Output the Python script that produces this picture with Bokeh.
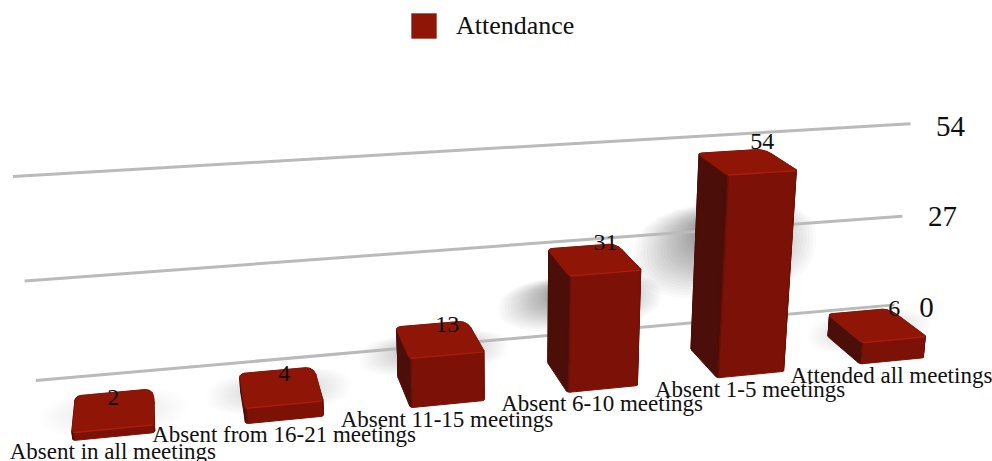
import numpy as np
from bokeh.plotting import figure
from bokeh.models import Range1d, Legend, LegendItem
from bokeh.core.properties import value
from bokeh.embed import file_html
from bokeh.resources import INLINE

# ---- data ----
categories = ["Absent in all meetings", "Absent from 16-21 meetings", "Absent 11-15 meetings",
              "Absent 6-10 meetings", "Absent 1-5 meetings", "Attended all meetings"]
attendance = [2, 4, 13, 31, 54, 6]
tick_values = [0, 27, 54]
series_name = "Attendance"

# ---- 3D camera of the chart: (category, value, depth) -> page ----
CAM = np.array([[179.4450745, -0.4751695, 7.859113, 71.984791],
                [-6.0275634, -4.2991639, -14.3405113, 440.0879406],
                [0.0255717, -0.0009273, 0.0567159, 1.0]])
BAR_W, WALL_D, WALL_L, WALL_R = 0.4690721, 1.7864386, -0.2638918, 5.7390848
FONT = value("Liberation Serif")
INK = "#101010"


def proj(c, v, d):
    h = CAM @ np.array([c, v, d, 1.0])
    return float(h[0] / h[2]), float(h[1] / h[2])


def section(c0, c1, d0, d1, n=4):
    """Bar cross-section in the (category, depth) plane: tight front corners, wide back corners."""
    pts = []
    corners = [(c0 + 0.018, d0 + 0.05, 0.018, 0.05, 180, 270), (c1 - 0.018, d0 + 0.05, 0.018, 0.05, 270, 360),
               (c1 - 0.05, d1 - 0.22, 0.05, 0.22, 0, 90), (c0 + 0.035, d1 - 0.12, 0.035, 0.12, 90, 180)]
    for cx, cy, rc, rd, a0, a1 in corners:
        for a in np.radians(np.linspace(a0, a1, n)):
            pts.append((cx + rc * np.cos(a), cy + rd * np.sin(a), a))
    return pts


def shade(a):
    """Face colour from its outward direction: dark to the left, mid at the front."""
    front, left, right = np.array([125, 18, 7]), np.array([76, 14, 8]), np.array([108, 17, 8])
    ca = np.cos(a)
    t = min(max(-ca, 0.0) * 1.6, 1.0)
    col = front * (1 - t) + left * t if ca < 0 else front * (1 - ca) + right * ca
    return "#%02x%02x%02x" % tuple(int(x) for x in col)


p = figure(width=992, height=461, output_backend="svg", toolbar_location=None,
           x_range=Range1d(0, 992), y_range=Range1d(461, 0), min_border=0,
           outline_line_color=None,
           background_fill_color="white", border_fill_color="white")
p.axis.visible = False
p.grid.visible = False

# soft shadows: nested blobs behind each bar, denser towards the middle
sx, sy, sa = [], [], []
LAYERS = 40
for i, v in enumerate(attendance):
    alpha = 0.004 + 0.017 * min(v / 30, 1)
    d = 0.5 + 0.5 * min(v / 20, 1)
    hc = BAR_W / 2 + 0.2 + 0.004 * v
    hv = max(0.25 * v, 6)
    for k in range(LAYERS):
        u = (1 - k / LAYERS) ** 1.5
        vc = v * (0.64 - 0.14 * u) if v > 10 else v * 0.5
        xy = []
        for a in np.radians(np.arange(0, 360, 15)):
            ca, sn = np.cos(a), np.sin(a)
            # superellipse outline
            xy.append(proj(i + BAR_W / 2 + hc * u * np.sign(ca) * abs(ca) ** 0.8,
                           vc + hv * u * np.sign(sn) * abs(sn) ** 0.8, d))
        sx.append([q[0] for q in xy])
        sy.append([q[1] for q in xy])
        sa.append(alpha)
p.patches(sx, sy, fill_color="#000000", fill_alpha=sa, line_color=None)

# wall gridlines
gx, gy = [], []
for t in tick_values:
    a, b = proj(WALL_L, t, WALL_D), proj(WALL_R, t, WALL_D)
    gx.append([a[0], b[0]])
    gy.append([a[1], b[1]])
p.multi_line(gx, gy, line_color="#bababa", line_width=3)

# bars: extruded rounded boxes, far faces first
fx, fy, fc = [], [], []
tx, ty = [], []
ex, ey = [], []
for i, v in enumerate(attendance):
    poly = section(i, i + BAR_W, 0, 1)
    n = len(poly)
    faces = []
    for j in range(n):
        a, b = poly[j], poly[(j + 1) % n]
        ang = np.arctan2(np.sin(a[2]) + np.sin(b[2]), np.cos(a[2]) + np.cos(b[2]))
        faces.append(((a[1] + b[1]) / 2, a, b, ang))
    faces.sort(key=lambda f: -f[0])
    for _, a, b, ang in faces:
        xy = [proj(a[0], 0, a[1]), proj(b[0], 0, b[1]), proj(b[0], v, b[1]), proj(a[0], v, a[1])]
        fx.append([q[0] for q in xy])
        fy.append([q[1] for q in xy])
        fc.append(shade(ang))
    xy = [proj(a, v, b) for a, b, _ in poly]
    tx.append([q[0] for q in xy])
    ty.append([q[1] for q in xy])
    edge = [proj(a, v, b) for a, b, ang in poly if np.sin(ang) < -0.6]
    ex.append([q[0] for q in edge])
    ey.append([q[1] for q in edge])

p.patches(fx, fy, fill_color=fc, line_color=fc, line_width=1.0)
tops = p.patches(tx, ty, fill_color="#8f1606", line_color="#8f1606", line_width=0.5)
p.multi_line(ex, ey, line_color="#ad1c0b", line_width=1.3)

# data labels, value-axis labels and category labels
fc_x = [proj(i + BAR_W / 2, v, 0) for i, v in enumerate(attendance)]
p.text([q[0] for q in fc_x], [q[1] for q in fc_x], text=[str(v) for v in attendance],
       y_offset=-31, text_font=FONT, text_font_size="24px", text_color=INK,
       text_align="center", text_baseline="middle")

base = [proj(i + BAR_W / 2, 0, 0) for i in range(len(categories))]
p.text([q[0] - 1 for q in base], [q[1] for q in base], text=categories,
       y_offset=15, text_font=FONT, text_font_size="23px", text_color=INK,
       text_align="center", text_baseline="middle")

tick_dx = [32, 40, 40]
tick_dy = [3, 0, 3]
for t, dx, dy in zip(tick_values, tick_dx, tick_dy):
    a = proj(WALL_R, t, WALL_D)
    p.text([a[0]], [a[1]], text=[str(t)], x_offset=dx, y_offset=dy, text_font=FONT,
           text_font_size="29px", text_color=INK, text_align="center", text_baseline="middle")

legend = Legend(items=[LegendItem(label=series_name, renderers=[tops])], location=(408, 420),
                orientation="horizontal", glyph_width=31, glyph_height=31, label_standoff=17,
                padding=0, margin=0, border_line_color=None, background_fill_alpha=0,
                label_text_font="Liberation Serif", label_text_font_size="26px", label_text_color=INK)
p.add_layout(legend, "center")

open("out.html", "w").write(file_html(p, INLINE))
